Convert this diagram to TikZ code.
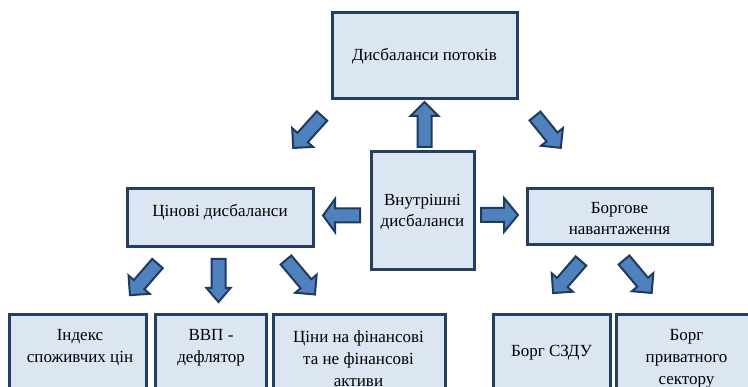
\documentclass[tikz,border=0pt]{standalone}
\usepackage{fontspec}
\setmainfont{Liberation Serif}
\definecolor{boxfill}{HTML}{DCE6F2}
\definecolor{boxline}{HTML}{243F60}
\definecolor{arrfill}{HTML}{4F81BD}
\definecolor{arrline}{HTML}{1F3A5F}
\tikzset{
  box/.style={draw=boxline, fill=boxfill, line width=3pt, inner sep=0pt},
  txt/.style={align=center, inner sep=0pt, font=\fontsize{17}{21}\selectfont},
  btxt/.style={align=center, inner sep=0pt, font=\fontsize{17}{22}\selectfont},
  arrowline/.style={draw=arrline, fill=arrfill, line width=2pt, line join=miter},
  pics/barrow/.style n args={3}{code={
    \path[arrowline] (0,-7) -- ({#1-#3},-7) -- ({#1-#3},-#2) -- (#1,0)
      -- ({#1-#3},#2) -- ({#1-#3},7) -- (0,7) -- cycle;}}
}
\begin{document}
\begin{tikzpicture}[x=1pt,y=-1pt]
\useasboundingbox (0,0) rectangle (748,387);
\clip (0,0) rectangle (748,387);
% top and middle boxes
\node[box, minimum width=185, minimum height=86] (flows) at (424.5,56) {};
\node[txt] (flowst) at (flows.center) {Дисбаланси потоків};
\node[box, minimum width=103, minimum height=118] (inner) at (422.5,211) {};
\node[txt] (innert) at (422.5,212) {Внутрішні\\дисбаланси};
\node[box, minimum width=186, minimum height=58] (price) at (220,218) {};
\node[txt] (pricet) at (220,212) {Цінові дисбаланси};
\node[box, minimum width=185, minimum height=56] (debt) at (619.5,217) {};
\node[txt] (debtt) at (619.5,219) {Боргове\\навантаження};
% bottom boxes
\node[box, minimum width=137, minimum height=90] (cpi) at (77.5,360) {};
\node[btxt] (cpit) at (80,347.5) {Індекс\\споживчих цін};
\node[box, minimum width=111, minimum height=90] (gdp) at (210.5,360) {};
\node[btxt] (gdpt) at (211,347.5) {ВВП -\\дефлятор};
\node[box, minimum width=172, minimum height=90] (assets) at (359,360) {};
\node[btxt] (assetst) at (358.5,358.5) {Ціни на фінансові\\та не фінансові\\активи};
\node[box, minimum width=117, minimum height=90] (gov) at (551.5,360) {};
\node[btxt] (govt) at (551.5,353) {Борг СЗДУ};
\node[box, minimum width=142, minimum height=90] (priv) at (687,360) {};
\node[btxt] (privt) at (686.5,358.5) {Борг\\приватного\\сектору};
% block arrows
\pic[rotate=90] (aup) at (424.5,147) {barrow={45}{14}{14}};
\pic[rotate=180] (aleft) at (360,215.5) {barrow={37}{16.5}{12}};
\pic[rotate=0] (aright) at (481,215) {barrow={37}{17}{14}};
\pic[rotate=-132] (aul) at (322,116) {barrow={43}{14}{14}};
\pic[rotate=-51] (aur) at (535,116) {barrow={41}{14}{14}};
\pic[rotate=-131] (ap1) at (157.5,263.5) {barrow={42}{14}{14}};
\pic[rotate=-90] (ap2) at (218.5,259) {barrow={43}{12}{14}};
\pic[rotate=-50] (ap3) at (286,260) {barrow={45}{14}{14}};
\pic[rotate=-131] (ad1) at (581,261) {barrow={42.5}{14}{14}};
\pic[rotate=-50] (ad2) at (624,260) {barrow={43}{14}{14}};
\end{tikzpicture}
\end{document}
